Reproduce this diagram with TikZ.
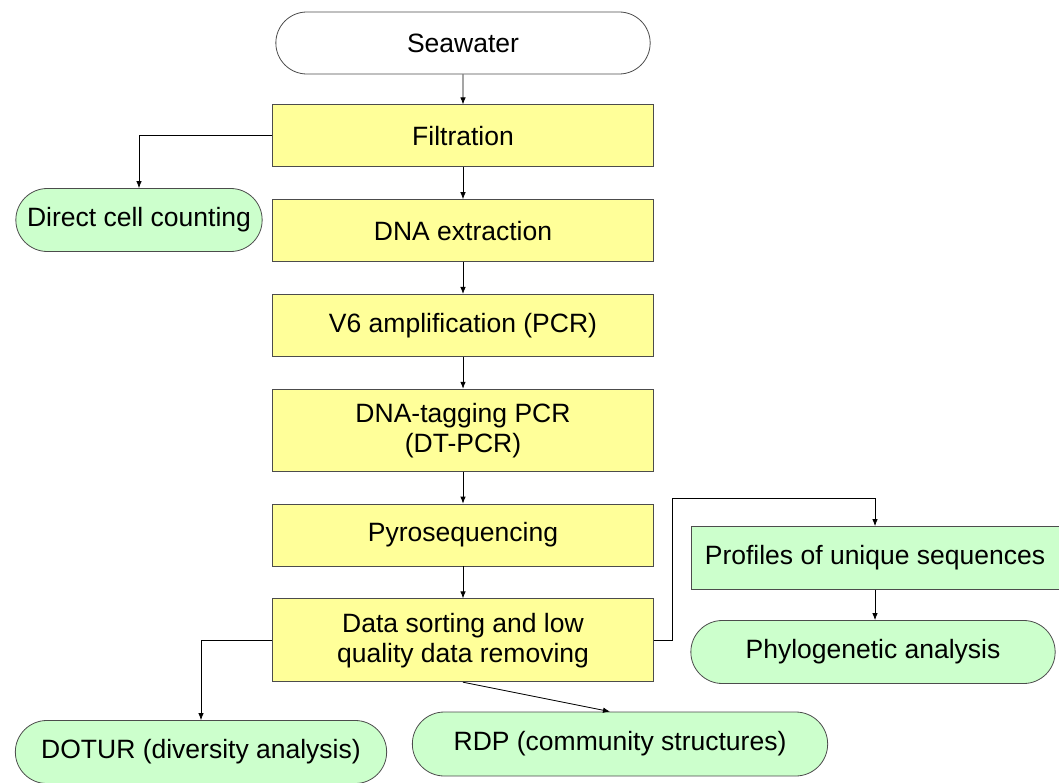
\documentclass[tikz,border=0pt]{standalone}
\usepackage{fontspec}
\setmainfont{Liberation Sans}
\usetikzlibrary{positioning, shapes.misc, arrows.meta}

\definecolor{stepyellow}{HTML}{FFFF99}
\definecolor{resultgreen}{HTML}{CCFFCC}

\begin{document}
\begin{tikzpicture}[
        ->,
        >={Latex[length=7pt,width=5.5pt]},
        x=1pt,
        y=-1pt,
        node distance=32pt,
        every node/.style={font=\fontsize{26.5}{30}\selectfont, align=center, draw=black!70, line width=0.8pt},
        stepbox/.style={rectangle, fill=stepyellow, minimum width=381pt, minimum height=62pt},
        endbox/.style={rounded rectangle, minimum height=62pt},
        resultbox/.style={rounded rectangle, fill=resultgreen, minimum height=63pt},
        every path/.append style={line width=0.8pt}
    ]
    \useasboundingbox (0,0) rectangle (1059,783);

    % main column
    \node[endbox, minimum width=381pt] (sea) at (463,43) {Seawater};
    \node[stepbox, below=30pt of sea] (filt) {Filtration};
    \node[stepbox, below=of filt] (dna) {DNA extraction};
    \node[stepbox, below=of dna] (v6) {V6 amplification (PCR)};
    \node[stepbox, below=of v6, minimum height=82pt] (tag) {DNA-tagging PCR\\(DT-PCR)};
    \node[stepbox, below=of tag] (pyro) {Pyrosequencing};
    \node[stepbox, below=of pyro, minimum height=83pt] (sort) {Data sorting and low\\quality data removing};

    % side branches
    \node[resultbox, minimum width=253pt] (count) at (139,220) {Direct cell counting};
    \node[rectangle, fill=resultgreen, minimum width=368pt, minimum height=63pt] (prof) at (875,558) {Profiles of unique sequences};
    \node[resultbox, minimum width=371pt] (phylo) at (873,652) {Phylogenetic analysis};
    \node[resultbox, minimum width=378pt] (dotur) at (201,752) {DOTUR (diversity analysis)};
    \node[resultbox, minimum width=422pt, minimum height=64pt] (rdp) at (620,744) {RDP (community structures)};

    \draw (sea) -- (filt);
    \draw (filt) -- (dna);
    \draw (dna) -- (v6);
    \draw (v6) -- (tag);
    \draw (tag) -- (pyro);
    \draw (pyro) -- (sort);

    \draw (filt.west) -| (count.north);
    \draw (sort.west) -| (dotur.north);
    \draw (sort.south) -- ([xshift=-10pt]rdp.north);
    \draw (sort.east) -- ++(18,0) |- ([yshift=28pt]prof.north) -- (prof.north);
    \draw (prof.south) -- (prof.south |- phylo.north);
\end{tikzpicture}
\end{document}
